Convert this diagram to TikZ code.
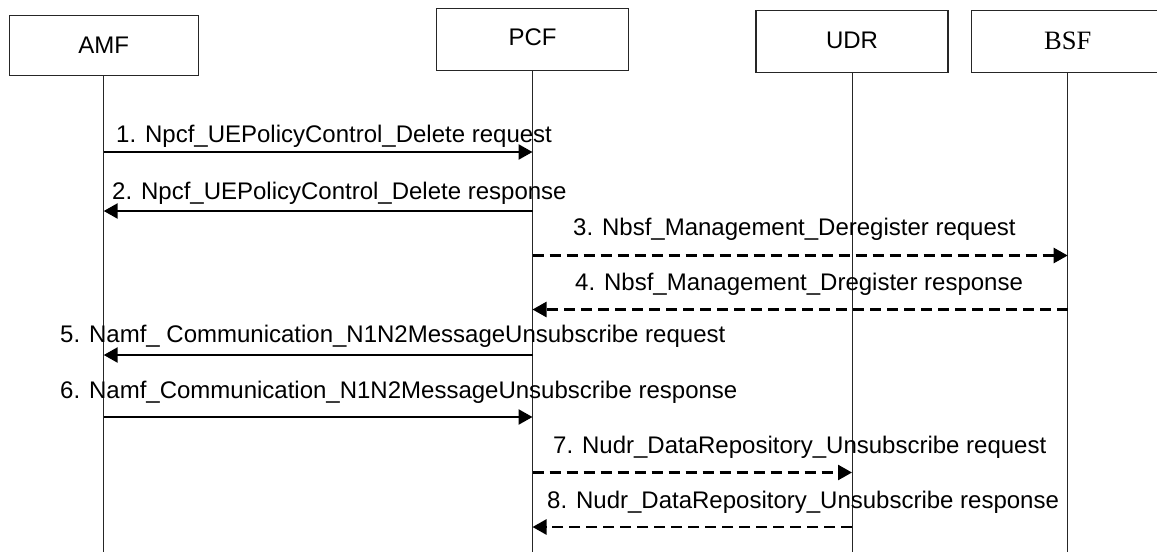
\documentclass[tikz,border=0pt]{standalone}
\usepackage{fontspec}
\setmainfont{Liberation Sans}
\newfontfamily\serifnf{Liberation Serif}
\usetikzlibrary{arrows.meta}
\tikzset{
  entity/.style={draw=black!85, line width=1.1pt, minimum width=190pt, minimum height=62pt, inner sep=0pt, font=\fontsize{24}{28}\selectfont},
  life/.style={draw=black!85, line width=1pt},
  msg/.style={line width=2.5pt, -{Triangle[length=14pt,width=15pt]}},
  dmsg/.style={msg, dash pattern=on 11pt off 6pt},
  lbl/.style={anchor=base west, inner sep=0pt, font=\fontsize{24}{28}\selectfont}
}
\begin{document}
\begin{tikzpicture}[x=1pt,y=1pt]
\useasboundingbox (0,0) rectangle (1157,-552);
\clip (0,0) rectangle (1157,-552);
% entities
\node[entity, minimum width=188.7pt, minimum height=60.7pt] (amf) at (103.7,-45.5) {AMF};
\node[entity, minimum width=191.6pt, minimum height=62.4pt] (pcf) at (532.5,-39.5) {\raisebox{4pt}{PCF}};
\node[entity, minimum width=192pt, minimum height=62.3pt] (udr) at (852,-41.2) {\raisebox{1pt}{UDR}};
\node[entity, minimum width=192pt, minimum height=62.3pt, font=\serifnf\fontsize{26.5}{30}\selectfont] (bsf) at (1067.7,-41.2) {BSF};
% lifeline ends
\coordinate (bottom) at (0,-552);
\draw[life] (amf.south) -- (amf.south |- bottom);
\draw[life] (pcf.south) -- (pcf.south |- bottom);
\draw[life] (udr.south) -- (udr.south |- bottom);
\draw[life] (bsf.south) -- (bsf.south |- bottom);
% message rows
\coordinate (r1) at (0,-152);
\coordinate (r2) at (0,-211);
\coordinate (r3) at (0,-255.5);
\coordinate (r4) at (0,-309.5);
\coordinate (r5) at (0,-355);
\coordinate (r6) at (0,-417);
\coordinate (r7) at (0,-472.5);
\coordinate (r8) at (0,-527);
\draw[msg] (amf.south |- r1) -- (pcf.south |- r1);
\draw[msg] (pcf.south |- r2) -- (amf.south |- r2);
\draw[dmsg] (pcf.south |- r3) -- (bsf.south |- r3);
\draw[dmsg] (bsf.south |- r4) -- (pcf.south |- r4);
\draw[msg] (pcf.south |- r5) -- (amf.south |- r5);
\draw[msg] (amf.south |- r6) -- (pcf.south |- r6);
\draw[dmsg] (pcf.south |- r7) -- (udr.south |- r7);
\draw[dmsg] (udr.south |- r8) -- (pcf.south |- r8);
% labels
\node[lbl] (l1) at (116,-142) {1. Npcf\_UEPolicyControl\_Delete request};
\node[lbl] (l2) at (112,-199) {2. Npcf\_UEPolicyControl\_Delete response};
\node[lbl] (l3) at (573,-235) {3. Nbsf\_Management\_Deregister request};
\node[lbl] (l4) at (575,-290) {4. Nbsf\_Management\_Dregister response};
\node[lbl] (l5) at (60,-342) {5. Namf\_ Communication\_N1N2MessageUnsubscribe request};
\node[lbl] (l6) at (60,-398) {6. Namf\_Communication\_N1N2MessageUnsubscribe response};
\node[lbl] (l7) at (553,-453) {7. Nudr\_DataRepository\_Unsubscribe request};
\node[lbl] (l8) at (547,-508) {8. Nudr\_DataRepository\_Unsubscribe response};
\end{tikzpicture}
\end{document}
